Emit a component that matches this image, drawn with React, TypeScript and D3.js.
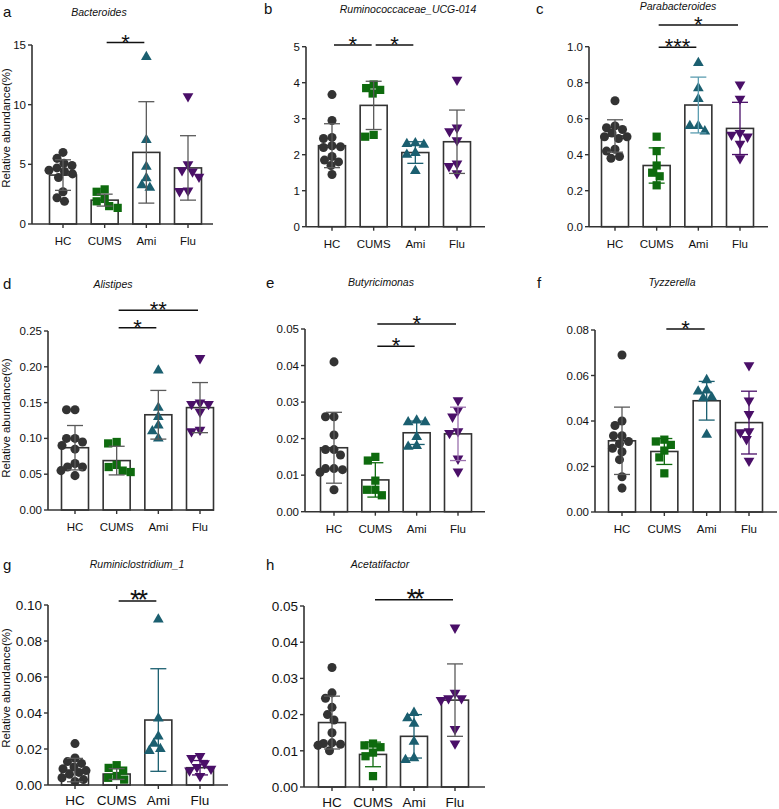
import React from "react";
import * as d3 from "d3";

const groups = ["HC", "CUMS", "Ami", "Flu"];
const groupColors = ["#333333", "#0e6b0e", "#1b5f70", "#4a0f68"];
const lightColors = ["#666666", "#3f8f3f", "#5b9db0", "#9a70ad"];
const grayErr = "#5a5a5a";

// a. Bacteroides
const bacteroidesPoints = [
  [6.0, 5.5, 5.1, 4.9, 4.7, 4.5, 4.4, 4.2, 3.9, 2.7, 2.2, 1.9],
  [2.9, 2.7, 2.1, 1.9, 1.5, 1.35],
  [14.0, 7.05, 4.8, 3.85, 3.25, 3.05],
  [10.7, 5.0, 4.5, 4.4, 3.95, 2.8, 2.75],
];
const bacteroidesMean = [4.1, 2.0, 6.0, 4.7];
const bacteroidesSD = [1.28, 0.5, 4.25, 2.7];
const bacteroidesSig = [{ from: 1, to: 2, y: 15.2, label: "*" }];

// b. Ruminococcaceae_UCG-014
const ruminococcaceaePoints = [
  [3.67, 2.95, 2.48, 2.45, 2.25, 2.22, 2.2, 1.95, 1.85, 1.8, 1.7, 1.45],
  [3.95, 3.85, 3.8, 3.7, 2.55, 2.5],
  [2.32, 2.3, 2.28, 2.05, 2.0, 1.55],
  [4.08, 2.75, 2.65, 2.4, 1.75, 1.68, 1.48],
];
const ruminococcaceaeMean = [2.25, 3.37, 2.06, 2.36];
const ruminococcaceaeSD = [0.61, 0.67, 0.3, 0.88];
const ruminococcaceaeSig = [
  { from: 0, to: 1, y: 5.05, label: "*" },
  { from: 1, to: 2, y: 5.05, label: "*" },
];

// c. Parabacteroides
const parabacteroidesPoints = [
  [0.7, 0.56, 0.55, 0.54, 0.52, 0.5, 0.5, 0.49, 0.43, 0.42, 0.39, 0.38],
  [0.5, 0.42, 0.34, 0.3, 0.28, 0.23],
  [0.91, 0.77, 0.71, 0.56, 0.56, 0.53],
  [0.79, 0.71, 0.52, 0.51, 0.5, 0.46, 0.38],
];
const parabacteroidesMean = [0.504, 0.34, 0.676, 0.546];
const parabacteroidesSD = [0.09, 0.098, 0.155, 0.145];
const parabacteroidesSig = [
  { from: 1, to: 3, y: 1.12, label: "*" },
  { from: 1, to: 2, y: 0.997, label: "***" },
];

// d. Alistipes
const alistipesPoints = [
  [0.14, 0.14, 0.1, 0.1, 0.095, 0.09, 0.085, 0.065, 0.06, 0.06, 0.055, 0.048],
  [0.095, 0.093, 0.063, 0.06, 0.055, 0.053],
  [0.195, 0.143, 0.13, 0.118, 0.11, 0.1],
  [0.212, 0.15, 0.148, 0.148, 0.137, 0.112, 0.11],
];
const alistipesMean = [0.087, 0.069, 0.133, 0.143];
const alistipesSD = [0.031, 0.02, 0.034, 0.035];
const alistipesSig = [
  { from: 1, to: 3, y: 0.279, label: "**" },
  { from: 1, to: 2, y: 0.2546, label: "*" },
];

// e. Butyricimonas
const butyricimonasPoints = [
  [0.041, 0.026, 0.026, 0.021, 0.017, 0.017, 0.0155, 0.0118, 0.0118, 0.0115, 0.0108, 0.006],
  [0.015, 0.014, 0.0085, 0.006, 0.006, 0.0045],
  [0.025, 0.0245, 0.0245, 0.0205, 0.018, 0.0178],
  [0.0305, 0.0278, 0.026, 0.022, 0.0215, 0.0145, 0.011],
];
const butyricimonasMean = [0.0175, 0.0087, 0.0216, 0.0213];
const butyricimonasSD = [0.0097, 0.0047, 0.0032, 0.0073];
const butyricimonasSig = [
  { from: 1, to: 3, y: 0.0514, label: "*" },
  { from: 1, to: 2, y: 0.0453, label: "*" },
];

// f. Tyzzerella
const tyzzerellaPoints = [
  [0.069, 0.04, 0.038, 0.0335, 0.0335, 0.031, 0.03, 0.028, 0.0265, 0.023, 0.0155, 0.0105],
  [0.0318, 0.031, 0.0295, 0.027, 0.024, 0.017],
  [0.058, 0.0535, 0.053, 0.0505, 0.05, 0.034],
  [0.0645, 0.049, 0.043, 0.0355, 0.035, 0.032, 0.0225],
];
const tyzzerellaMean = [0.0313, 0.0266, 0.0489, 0.0393];
const tyzzerellaSD = [0.0148, 0.0057, 0.0085, 0.0138];
const tyzzerellaSig = [{ from: 1, to: 2, y: 0.0804, label: "*" }];

// g. Ruminiclostridium_1
const ruminiclostridiumPoints = [
  [0.023, 0.015, 0.013, 0.012, 0.01, 0.009, 0.008, 0.007, 0.006, 0.004, 0.003, 0.002],
  [0.011, 0.0095, 0.008, 0.005, 0.004, 0.003],
  [0.092, 0.037, 0.027, 0.023, 0.02, 0.019],
  [0.016, 0.015, 0.012, 0.01, 0.009, 0.008, 0.005],
];
const ruminiclostridiumMean = [0.0083, 0.0061, 0.0361, 0.0096];
const ruminiclostridiumSD = [0.0065, 0.003, 0.0285, 0.004];
const ruminiclostridiumSig = [{ from: 1, to: 2, y: 0.1022, label: "**" }];

// h. Acetatifactor
const acetatifactorPoints = [
  [0.033, 0.026, 0.0245, 0.022, 0.02, 0.0185, 0.015, 0.0122, 0.012, 0.0118, 0.0115, 0.01],
  [0.012, 0.0115, 0.011, 0.0095, 0.0085, 0.003],
  [0.0205, 0.019, 0.0175, 0.0125, 0.008, 0.0075],
  [0.044, 0.026, 0.0245, 0.0245, 0.024, 0.016, 0.012],
];
const acetatifactorMean = [0.0178, 0.009, 0.014, 0.024];
const acetatifactorSD = [0.0073, 0.0034, 0.006, 0.01];
const acetatifactorSig = [{ from: 1, to: 3, y: 0.0517, label: "**" }];

const panels = [
  { letter: "a", title: "Bacteroides", points: bacteroidesPoints, mean: bacteroidesMean, sd: bacteroidesSD, sig: bacteroidesSig, max: 15, ticks: 3, fmt: "d" },
  { letter: "b", title: "Ruminococcaceae_UCG-014", points: ruminococcaceaePoints, mean: ruminococcaceaeMean, sd: ruminococcaceaeSD, sig: ruminococcaceaeSig, max: 5, ticks: 5, fmt: "d" },
  { letter: "c", title: "Parabacteroides", points: parabacteroidesPoints, mean: parabacteroidesMean, sd: parabacteroidesSD, sig: parabacteroidesSig, max: 1, ticks: 5, fmt: ".1f" },
  { letter: "d", title: "Alistipes", points: alistipesPoints, mean: alistipesMean, sd: alistipesSD, sig: alistipesSig, max: 0.25, ticks: 5, fmt: ".2f" },
  { letter: "e", title: "Butyricimonas", points: butyricimonasPoints, mean: butyricimonasMean, sd: butyricimonasSD, sig: butyricimonasSig, max: 0.05, ticks: 5, fmt: ".2f" },
  { letter: "f", title: "Tyzzerella", points: tyzzerellaPoints, mean: tyzzerellaMean, sd: tyzzerellaSD, sig: tyzzerellaSig, max: 0.08, ticks: 4, fmt: ".2f" },
  { letter: "g", title: "Ruminiclostridium_1", points: ruminiclostridiumPoints, mean: ruminiclostridiumMean, sd: ruminiclostridiumSD, sig: ruminiclostridiumSig, max: 0.1, ticks: 5, fmt: ".2f" },
  { letter: "h", title: "Acetatifactor", points: acetatifactorPoints, mean: acetatifactorMean, sd: acetatifactorSD, sig: acetatifactorSig, max: 0.05, ticks: 5, fmt: ".2f" },
];

// where each panel sits on the page, and error bar colour style (g=gray, c=group, l=light group)
const layouts = [
  { axisX: 32, x0: 63, x3: 188, xEnd: 213, top: 45, bottom: 224, titleX: 99, titleY: 16, letterX: 3, letterY: 17, ylab: 128, font: 11.5, err: "gggg" },
  { axisX: 306, x0: 332, x3: 457, xEnd: 485, top: 46.7, bottom: 226.7, titleX: 408, titleY: 13, letterX: 264, letterY: 14, ylab: 0, font: 11.5, err: "ggcg" },
  { axisX: 589, x0: 615, x3: 740, xEnd: 768, top: 46.7, bottom: 226.7, titleX: 678, titleY: 9.8, letterX: 536, letterY: 14, ylab: 0, font: 11.5, err: "gclc" },
  { axisX: 48, x0: 75, x3: 200, xEnd: 214, top: 331, bottom: 510, titleX: 113, titleY: 288, letterX: 3, letterY: 289, ylab: 418, font: 11.5, err: "gggg" },
  { axisX: 305, x0: 334, x3: 458, xEnd: 485, top: 329, bottom: 511.7, titleX: 381, titleY: 286, letterX: 266, letterY: 288, ylab: 0, font: 11.5, err: "gccl" },
  { axisX: 595, x0: 622, x3: 749, xEnd: 777, top: 330, bottom: 512, titleX: 672, titleY: 286, letterX: 537, letterY: 288, ylab: 0, font: 11.5, err: "gccc" },
  { axisX: 48, x0: 75, x3: 200, xEnd: 228, top: 605, bottom: 785, titleX: 137, titleY: 568, letterX: 3, letterY: 570, ylab: 688, font: 13.5, err: "ggcc" },
  { axisX: 304, x0: 332, x3: 455, xEnd: 485, top: 606, bottom: 787, titleX: 380, titleY: 568, letterX: 266, letterY: 570, ylab: 0, font: 13.5, err: "gccg" },
];

const symbolTypes = [d3.symbolCircle, d3.symbolSquare, d3.symbolTriangle, d3.symbolTriangle];
const symbolSizes = [64, 68, 50, 50];
const markR = 4.5;

// simple dodge so the dots spread sideways like a scatter dot plot
function swarm(ys: number[], r: number, maxOff: number) {
  const order = ys.map((_, i) => i).sort((a, b) => ys[a] - ys[b]);
  const placed: { x: number; y: number }[] = [];
  const out = new Array(ys.length).fill(0);
  for (const i of order) {
    const y = ys[i];
    let chosen = 0;
    let bestOverlap = Infinity;
    for (let k = 0; k < 80; k++) {
      const off = (k % 2 === 0 ? 1 : -1) * Math.ceil(k / 2) * 0.5;
      if (Math.abs(off) > maxOff) break;
      let worst = 0;
      for (const p of placed) {
        const dd = Math.hypot(p.x - off, p.y - y);
        if (dd < 2 * r * 0.92) worst = Math.max(worst, 2 * r - dd);
      }
      if (worst === 0) {
        chosen = off;
        bestOverlap = 0;
        break;
      }
      if (worst < bestOverlap) {
        bestOverlap = worst;
        chosen = off;
      }
    }
    placed.push({ x: chosen, y });
    out[i] = chosen;
  }
  return out;
}

const fontFamily = "'Liberation Sans', Arial, sans-serif";

function Panel({ p, l }: { p: (typeof panels)[number]; l: (typeof layouts)[number] }) {
  const y = d3.scaleLinear().domain([0, p.max]).range([l.bottom, l.top]);
  const x = d3.scalePoint<string>().domain(groups).range([l.x0, l.x3]);
  const fmt = d3.format(p.fmt);
  const barW = 27;
  const stroke = "#333333";
  const bigStars = l.font > 12;

  return (
    <g>
      <text x={l.letterX} y={l.letterY} fontSize={15} fontFamily={fontFamily} fill="#111">
        {p.letter}
      </text>
      <text x={l.titleX} y={l.titleY} fontSize={10.5} fontStyle="italic" textAnchor="middle" fontFamily={fontFamily} fill="#111">
        {p.title}
      </text>
      {l.ylab > 0 && (
        <text
          transform={`translate(10,${l.ylab}) rotate(-90)`}
          textAnchor="middle"
          fontSize={11.5}
          fontFamily={fontFamily}
          fill="#111"
        >
          Relative abundance(%)
        </text>
      )}

      {/* bars */}
      {groups.map((g, i) => (
        <rect
          key={g}
          x={(x(g) as number) - barW / 2}
          y={y(p.mean[i])}
          width={barW}
          height={l.bottom - y(p.mean[i])}
          fill="#fff"
          stroke={stroke}
          strokeWidth={1.6}
        />
      ))}

      {/* points */}
      {groups.map((g, i) => {
        const ys = p.points[i].map((v) => y(v));
        const offs = swarm(ys, markR, 14);
        const sym = d3.symbol().type(symbolTypes[i]).size(symbolSizes[i])();
        return (
          <g key={g}>
            {p.points[i].map((v, j) => (
              <path
                key={j}
                d={sym as string}
                transform={`translate(${(x(g) as number) + offs[j]},${ys[j]})${i === 3 ? " rotate(180)" : ""}`}
                fill={groupColors[i]}
              />
            ))}
          </g>
        );
      })}

      {/* error bars */}
      {groups.map((g, i) => {
        const c = l.err[i] === "c" ? groupColors[i] : l.err[i] === "l" ? lightColors[i] : grayErr;
        const cx = x(g) as number;
        const hi = y(p.mean[i] + p.sd[i]);
        const lo = y(Math.max(0, p.mean[i] - p.sd[i]));
        return (
          <g key={g} stroke={c} strokeWidth={1.3}>
            <line x1={cx} x2={cx} y1={hi} y2={lo} />
            <line x1={cx - 8} x2={cx + 8} y1={hi} y2={hi} />
            <line x1={cx - 8} x2={cx + 8} y1={lo} y2={lo} />
          </g>
        );
      })}

      {/* axes */}
      <line x1={l.axisX} x2={l.axisX} y1={l.top} y2={l.bottom} stroke={stroke} strokeWidth={1.6} />
      <line x1={l.axisX} x2={l.xEnd} y1={l.bottom} y2={l.bottom} stroke={stroke} strokeWidth={1.6} />
      {y.ticks(p.ticks).map((t) => (
        <g key={t}>
          <line x1={l.axisX - 4} x2={l.axisX} y1={y(t)} y2={y(t)} stroke={stroke} strokeWidth={1.4} />
          <text
            x={l.axisX - 6}
            y={y(t)}
            dy="0.35em"
            textAnchor="end"
            fontSize={l.font}
            fontFamily={fontFamily}
            fill="#111"
          >
            {fmt(t)}
          </text>
        </g>
      ))}
      {groups.map((g) => (
        <g key={g}>
          <line x1={x(g)} x2={x(g)} y1={l.bottom} y2={l.bottom + 4} stroke={stroke} strokeWidth={1.4} />
          <text
            x={x(g)}
            y={l.bottom + (bigStars ? 20 : 21)}
            textAnchor="middle"
            fontSize={l.font}
            fontFamily={fontFamily}
            fill="#111"
          >
            {g}
          </text>
        </g>
      ))}

      {/* significance */}
      {p.sig.map((s, k) => {
        const x1 = (x(groups[s.from]) as number) + 2;
        const x2 = (x(groups[s.to]) as number) - 2;
        const ly = y(s.y);
        return (
          <g key={k}>
            <line x1={x1} x2={x2} y1={ly} y2={ly} stroke="#111" strokeWidth={1.5} />
            <text
              x={(x1 + x2) / 2}
              y={ly + (bigStars ? 8 : 7)}
              textAnchor="middle"
              fontSize={bigStars ? 27 : 22}
              letterSpacing={bigStars ? -3 : 0}
              fontFamily={fontFamily}
              fill="#111"
            >
              {s.label}
            </text>
          </g>
        );
      })}
    </g>
  );
}

export default function App() {
  return (
    <svg
      width={779}
      height={809}
      style={{ position: "absolute", left: 0, top: 0, background: "#fff" }}
    >
      <rect width={779} height={809} fill="#fff" />
      {panels.map((p, i) => (
        <Panel key={p.letter} p={p} l={layouts[i]} />
      ))}
    </svg>
  );
}
